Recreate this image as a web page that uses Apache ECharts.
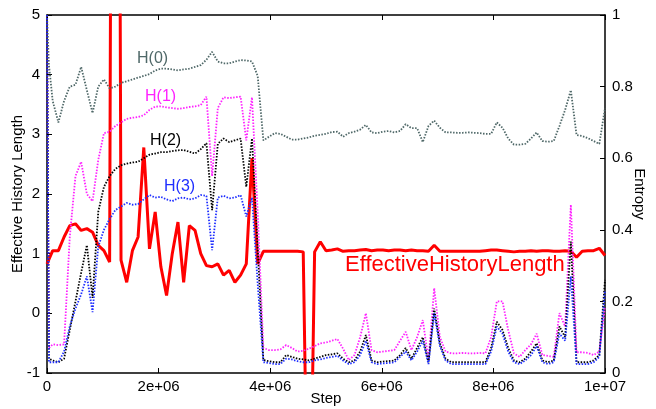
<!DOCTYPE html>
<html>
<head>
<meta charset="utf-8">
<script src="https://cdn.jsdelivr.net/npm/echarts@6/dist/echarts.min.js"></script>
<style>
  html, body { margin: 0; padding: 0; background: #fff; }
  #chart { width: 656px; height: 409px; }
</style>
</head>
<body>
<div id="chart"></div>
<script>
// one sample every 1e7/98 steps (99 samples, 0 .. 1e7)
const STEP = 1e7 / 98;

// EffectiveHistoryLength, left axis
const effLen = [
  0.83, 1.05, 1.05, 1.28, 1.47, 1.5, 1.39, 1.42, 1.36, 1.14,
  1.05, 0.86, 30, 0.89, 0.52, 1.05, 1.28, 2.78, 1.08, 1.7,
  0.78, 0.3, 1.0, 1.53, 0.52, 1.47, 1.39, 1.0, 0.8, 0.78,
  0.83, 0.64, 0.72, 0.52, 0.64, 0.83, 2.6, 0.83, 1.04, 1.04,
  1.04, 1.04, 1.04, 1.04, 1.04, 1.03, -5, 1.03, 1.2, 1.05,
  1.06, 1.08, 1.04, 1.05, 1.05, 1.06, 1.07, 1.05, 1.06, 1.06,
  1.05, 1.06, 1.06, 1.05, 1.06, 1.05, 1.05, 1.04, 1.14, 1.04,
  1.04, 1.04, 1.04, 1.04, 1.04, 1.04, 1.04, 1.05, 1.06, 1.06,
  1.05, 1.04, 1.03, 1.04, 1.04, 1.05, 1.04, 1.05, 1.05, 1.04,
  1.04, 1.05, 1.04, 0.94, 1.04, 1.05, 1.05, 1.09, 0.97
];

// entropy series have an extra sample right after step 0
const hSteps = [0, 35000];
for (let i = 1; i < effLen.length; i++) hSteps.push(i * STEP);

const h0 = [
  1.0, 0.86,
  0.76, 0.70, 0.76, 0.80, 0.805, 0.855, 0.79, 0.726, 0.80, 0.82,
  0.795, 0.80, 0.81, 0.815, 0.82, 0.825, 0.83, 0.835, 0.845, 0.85,
  0.85, 0.848, 0.845, 0.848, 0.85, 0.855, 0.86, 0.875, 0.897, 0.87,
  0.865, 0.865, 0.87, 0.874, 0.873, 0.87, 0.83, 0.65, 0.66, 0.67,
  0.668, 0.66, 0.652, 0.652, 0.655, 0.658, 0.663, 0.665, 0.668, 0.673,
  0.674, 0.66, 0.67, 0.674, 0.68, 0.693, 0.672, 0.67, 0.674, 0.676,
  0.672, 0.676, 0.695, 0.684, 0.684, 0.645, 0.69, 0.705, 0.685, 0.672,
  0.672, 0.671, 0.671, 0.672, 0.671, 0.67, 0.668, 0.668, 0.70, 0.685,
  0.655, 0.638, 0.638, 0.64, 0.655, 0.672, 0.648, 0.646, 0.648, 0.69,
  0.735, 0.79, 0.665, 0.662, 0.656, 0.648, 0.64, 0.74
];

const h1 = [
  1.0, 0.07,
  0.08, 0.078, 0.08, 0.38, 0.55, 0.59, 0.50, 0.48, 0.595, 0.67,
  0.674, 0.69, 0.70, 0.71, 0.713, 0.715, 0.72, 0.735, 0.744, 0.745,
  0.742, 0.74, 0.738, 0.74, 0.743, 0.745, 0.748, 0.772, 0.55, 0.74,
  0.77, 0.768, 0.77, 0.772, 0.65, 0.77, 0.45, 0.07, 0.064, 0.064,
  0.066, 0.078, 0.07, 0.06, 0.062, 0.068, 0.075, 0.083, 0.085, 0.09,
  0.095, 0.068, 0.036, 0.05, 0.1, 0.167, 0.064, 0.058, 0.06, 0.062,
  0.064, 0.09, 0.115, 0.064, 0.1, 0.148, 0.036, 0.237, 0.1, 0.06,
  0.055, 0.055, 0.056, 0.055, 0.055, 0.056, 0.055, 0.1, 0.2, 0.2,
  0.12, 0.055, 0.045, 0.064, 0.08, 0.11, 0.05, 0.048, 0.045, 0.167,
  0.13, 0.47, 0.058, 0.058, 0.056, 0.05, 0.06, 0.185
];

const h2 = [
  1.0, 0.04,
  0.035, 0.03, 0.04, 0.12, 0.2, 0.28, 0.357, 0.21, 0.45, 0.52,
  0.55, 0.57, 0.58, 0.585, 0.588, 0.59, 0.6, 0.61, 0.613, 0.617,
  0.617, 0.62, 0.622, 0.623, 0.618, 0.613, 0.625, 0.642, 0.455, 0.64,
  0.655, 0.645, 0.65, 0.655, 0.52, 0.655, 0.35, 0.036, 0.033, 0.03,
  0.03, 0.05, 0.045, 0.04, 0.038, 0.035, 0.04, 0.045, 0.05, 0.052,
  0.055, 0.04, 0.03, 0.035, 0.06, 0.106, 0.035, 0.03, 0.032, 0.033,
  0.035, 0.05, 0.07, 0.04, 0.07, 0.10, 0.03, 0.18, 0.083, 0.04,
  0.03, 0.03, 0.03, 0.03, 0.03, 0.03, 0.03, 0.07, 0.143, 0.12,
  0.07, 0.035, 0.03, 0.04, 0.06, 0.083, 0.035, 0.03, 0.035, 0.13,
  0.10, 0.367, 0.03, 0.03, 0.03, 0.035, 0.05, 0.26
];

const h3 = [
  1.0, 0.03,
  0.03, 0.03, 0.06, 0.13, 0.18, 0.22, 0.27, 0.17, 0.353, 0.40,
  0.43, 0.455, 0.465, 0.475, 0.47, 0.472, 0.485, 0.497, 0.49, 0.492,
  0.485, 0.48, 0.488, 0.49, 0.485, 0.488, 0.497, 0.495, 0.343, 0.49,
  0.495, 0.488, 0.49, 0.497, 0.437, 0.49, 0.25, 0.03, 0.028, 0.025,
  0.025, 0.04, 0.038, 0.033, 0.03, 0.03, 0.035, 0.038, 0.042, 0.045,
  0.048, 0.035, 0.025, 0.03, 0.05, 0.09, 0.03, 0.025, 0.027, 0.028,
  0.03, 0.045, 0.06, 0.035, 0.06, 0.09, 0.025, 0.167, 0.075, 0.035,
  0.025, 0.025, 0.025, 0.025, 0.025, 0.025, 0.025, 0.06, 0.13, 0.11,
  0.06, 0.03, 0.025, 0.035, 0.05, 0.075, 0.03, 0.025, 0.03, 0.11,
  0.09, 0.27, 0.025, 0.025, 0.025, 0.03, 0.045, 0.23
];

const FONT = 'Liberation Sans, Arial, Helvetica, sans-serif';

const pairs = (xs, ys) => ys.map((v, i) => [xs[i], v]);
const effSteps = effLen.map((_, i) => i * STEP);

const dotted = (name, color, ys) => ({
  name,
  type: 'line',
  yAxisIndex: 1,
  data: pairs(hSteps, ys),
  showSymbol: false,
  lineStyle: { color, width: 1.8, type: [1.5, 1.5] },
  z: 3
});

const chart = echarts.init(document.getElementById('chart'));
chart.setOption({
  animation: false,
  textStyle: { fontFamily: FONT },
  grid: { left: 47, right: 51, top: 15, bottom: 36, outerBoundsMode: 'none', containLabel: false },
  xAxis: [{
    type: 'value', min: 0, max: 1e7, interval: 2e6,
    name: 'Step', nameLocation: 'middle', nameGap: 18, nameMoveOverlap: false,
    nameTextStyle: { color: '#000', fontSize: 15, fontFamily: FONT },
    axisLine: { onZero: false, lineStyle: { color: '#000', width: 1.5 } },
    axisTick: { inside: true, length: 5, lineStyle: { color: '#000' } },
    axisLabel: {
      color: '#000', fontSize: 15, fontFamily: FONT, margin: 6,
      formatter: v => v === 0 ? '0' : v.toExponential().replace(/e\+(\d)$/, 'e+0$1')
    },
    splitLine: { show: false }
  }, {
    type: 'value', position: 'top', min: 0, max: 1e7, interval: 2e6,
    axisLine: { show: true, onZero: false, lineStyle: { color: '#000', width: 1.5 } },
    axisTick: { inside: true, length: 5, lineStyle: { color: '#000' } },
    axisLabel: { show: false },
    splitLine: { show: false }
  }],
  yAxis: [{
    type: 'value', position: 'left', min: -1, max: 5, interval: 1,
    name: 'Effective History Length', nameLocation: 'middle', nameGap: 22, nameRotate: 90,
    nameMoveOverlap: false,
    nameTextStyle: { color: '#000', fontSize: 15, fontFamily: FONT },
    axisLine: { show: true, onZero: false, lineStyle: { color: '#000', width: 1.5 } },
    axisTick: { show: true, inside: true, length: 5, lineStyle: { color: '#000' } },
    axisLabel: { color: '#000', fontSize: 15, fontFamily: FONT, margin: 7 },
    splitLine: { show: false }
  }, {
    type: 'value', position: 'right', min: 0, max: 1, interval: 0.2,
    name: 'Entropy', nameLocation: 'middle', nameGap: 27, nameRotate: -90,
    nameMoveOverlap: false,
    nameTextStyle: { color: '#000', fontSize: 15, fontFamily: FONT },
    axisLine: { show: true, onZero: false, lineStyle: { color: '#000', width: 1.5 } },
    axisTick: { show: true, inside: true, length: 5, lineStyle: { color: '#000' } },
    axisLabel: { color: '#000', fontSize: 15, fontFamily: FONT, margin: 7 },
    splitLine: { show: false }
  }],
  series: [
    {
      name: 'EffectiveHistoryLength',
      type: 'line',
      yAxisIndex: 0,
      data: pairs(effSteps, effLen),
      showSymbol: false,
      clip: true,
      lineStyle: { color: '#ff0000', width: 3 },
      z: 2
    },
    dotted('H(0)', '#4f6868', h0),
    dotted('H(1)', '#ff22ff', h1),
    dotted('H(2)', '#000000', h2),
    dotted('H(3)', '#1f2fff', h3)
  ],
  graphic: [
    { type: 'text', left: 137, top: 51, style: { text: 'H(0)', fill: '#4f6868', font: '16px ' + FONT } },
    { type: 'text', left: 145, top: 89, style: { text: 'H(1)', fill: '#ff22ff', font: '16px ' + FONT } },
    { type: 'text', left: 150, top: 133, style: { text: 'H(2)', fill: '#000000', font: '16px ' + FONT } },
    { type: 'text', left: 164, top: 179, style: { text: 'H(3)', fill: '#1f2fff', font: '16px ' + FONT } },
    { type: 'text', left: 345, top: 254, style: { text: 'EffectiveHistoryLength', fill: '#ff0000', font: '22px ' + FONT } }
  ]
});
</script>
</body>
</html>
